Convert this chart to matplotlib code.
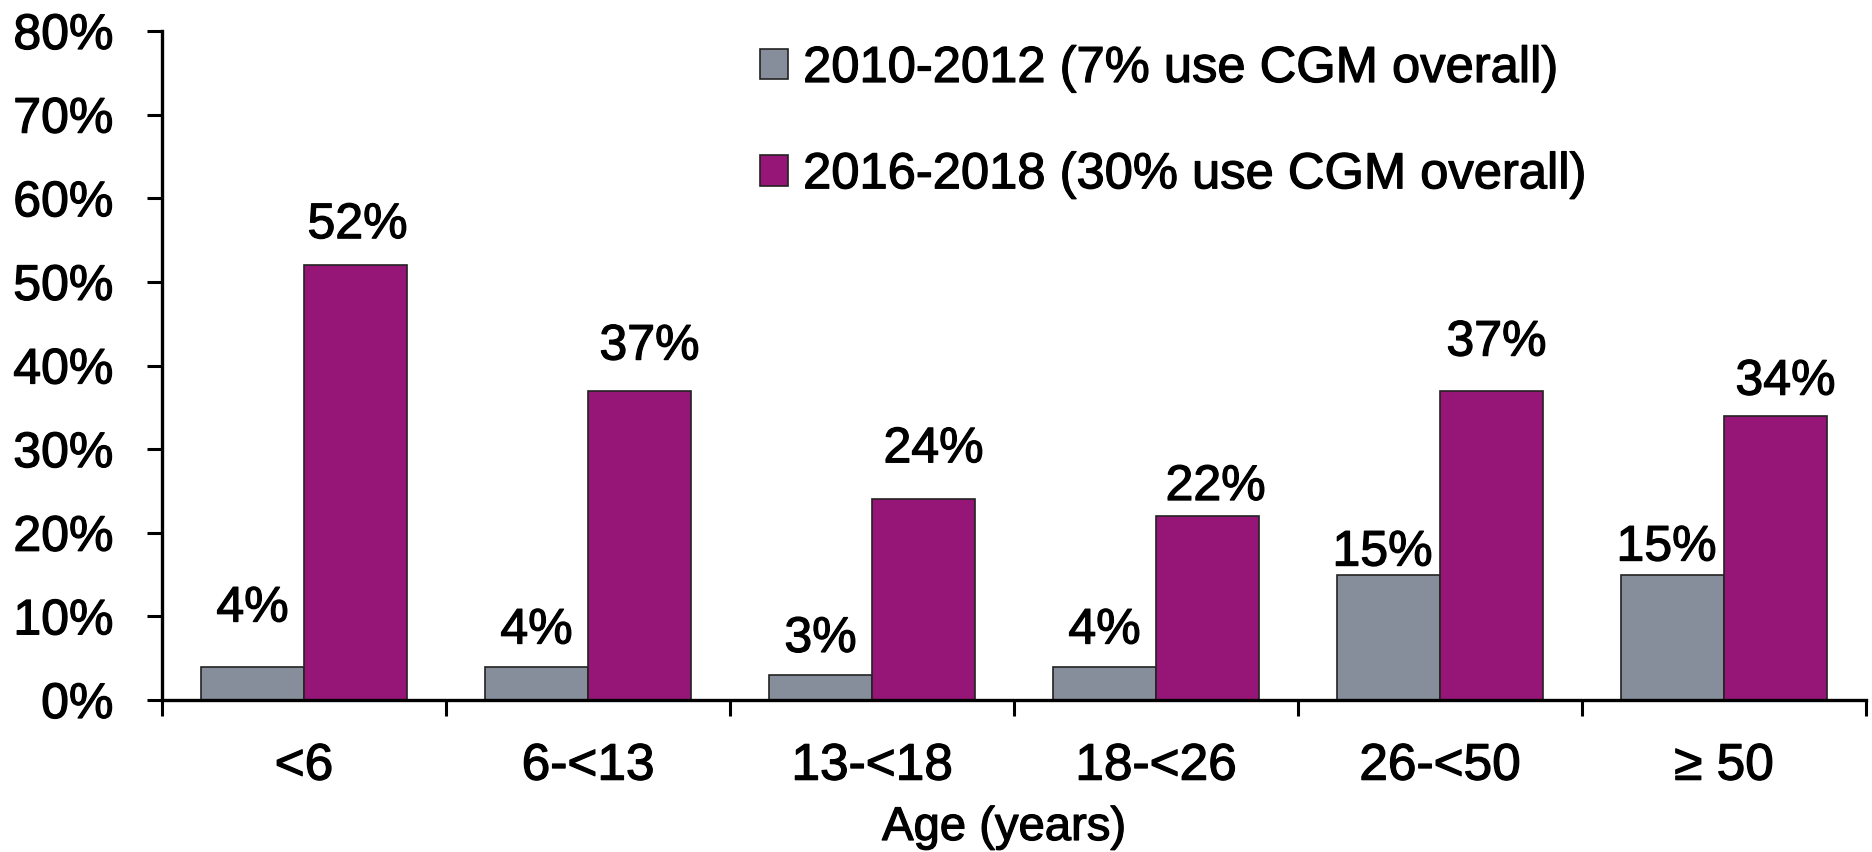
import matplotlib
matplotlib.use("Agg")
import matplotlib.pyplot as plt
import matplotlib.patheffects as pe
import numpy as np

# Data: CGM use by age group in two periods
age_groups = ["<6", "6-<13", "13-<18", "18-<26", "26-<50", "\u2265 50"]
use_2010_2012 = [4, 4, 3, 4, 15, 15]
use_2016_2018 = [52, 37, 24, 22, 37, 34]
series_labels = ["2010-2012 (7% use CGM overall)", "2016-2018 (30% use CGM overall)"]
y_ticks = [0, 10, 20, 30, 40, 50, 60, 70, 80]

# Hand-placed label nudges (pixels): horizontal shift and lift above bar top
gray_dx = [0, 0, 0, 0, -6, -6]
gray_lift = [45, 23, 23, 23, 9, 14]
purple_dx = [2, 10, 10, 8, 5, 10]
purple_lift = [27, 31, 37, 16, 35, 21]

plt.rcParams["font.family"] = ["Liberation Sans", "DejaVu Sans"]

W, H = 1872, 852
fig = plt.figure(figsize=(W / 100, H / 100), dpi=100)
ax = fig.add_axes([162 / W, 1 - 700 / H, (1866 - 162) / W, (700 - 31) / H])

# slightly heavier text strokes
heavy = [pe.withStroke(linewidth=0.9, foreground="black")]

gray = "#868e9b"
purple = "#951677"
edge = "#222222"
bw = 0.3627
x = np.arange(len(age_groups))

b1 = ax.bar(x - bw / 2, use_2010_2012, width=bw, color=gray, edgecolor=edge,
            linewidth=1.2, label=series_labels[0], zorder=2)
b2 = ax.bar(x + bw / 2, use_2016_2018, width=bw, color=purple, edgecolor=edge,
            linewidth=1.2, label=series_labels[1], zorder=2)

px = 0.72  # points per pixel at 100 dpi
for i, v in enumerate(use_2010_2012):
    ax.annotate(f"{v}%", xy=(x[i] - bw / 2, v), xytext=(gray_dx[i] * px, gray_lift[i] * px),
                textcoords="offset points", ha="center", va="baseline", fontsize=36,
                path_effects=heavy)
for i, v in enumerate(use_2016_2018):
    ax.annotate(f"{v}%", xy=(x[i] + bw / 2, v), xytext=(purple_dx[i] * px, purple_lift[i] * px),
                textcoords="offset points", ha="center", va="baseline", fontsize=36,
                path_effects=heavy)

ax.set_xlim(-0.5, len(age_groups) - 0.5)
ax.set_ylim(0, 80)
ax.set_yticks(y_ticks)
ax.set_yticklabels([f"{t}%" for t in y_ticks], fontsize=36)
ax.set_xticks(x)
ax.set_xticklabels(age_groups, fontsize=37)
ax.set_xticks(np.arange(len(age_groups) + 1) - 0.5, minor=True)
for lab in ax.get_xticklabels() + ax.get_yticklabels():
    lab.set_path_effects(heavy)

ax.tick_params(axis="y", direction="out", length=11, width=2.2, pad=24)
ax.tick_params(axis="x", which="major", length=0, pad=30)
ax.tick_params(axis="x", which="minor", direction="out", length=11.5, width=2.2)

for s in ["top", "right"]:
    ax.spines[s].set_visible(False)
for s in ["left", "bottom"]:
    ax.spines[s].set_linewidth(2.4)
    ax.spines[s].set_zorder(3)

fig.text(1004 / W, 12 / H, "Age (years)", fontsize=34, ha="center", va="baseline",
         path_effects=heavy)

leg = ax.legend(handles=[b1, b2], loc="upper left", bbox_to_anchor=(760 / W, 1 - 44 / H),
                bbox_transform=fig.transFigure, frameon=False, fontsize=36.5,
                handlelength=0.55, handleheight=0.55, handletextpad=0.3,
                labelspacing=1.13, borderpad=0, borderaxespad=0)
for t in leg.get_texts():
    t.set_path_effects(heavy)

fig.savefig("out.png", dpi=100)
